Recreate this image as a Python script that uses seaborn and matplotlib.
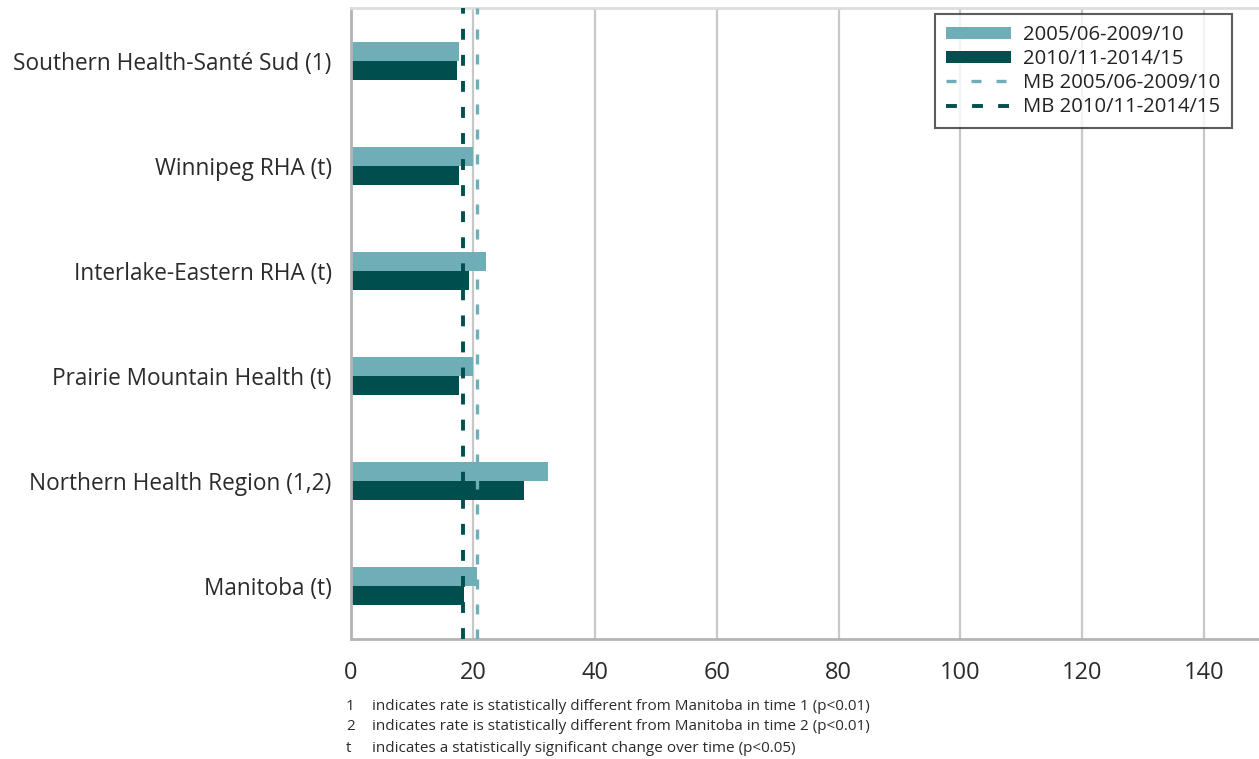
import pandas as pd
import matplotlib
matplotlib.use("Agg")
import matplotlib.pyplot as plt
import seaborn as sns

# datos del grafico
regiones = [
    "Southern Health-Santé Sud (1)",
    "Winnipeg RHA (t)",
    "Interlake-Eastern RHA (t)",
    "Prairie Mountain Health (t)",
    "Northern Health Region (1,2)",
    "Manitoba (t)",
]
periodos = ["2005/06-2009/10", "2010/11-2014/15"]
tasa_t1 = [17.8, 20.1, 22.1, 20.1, 32.4, 20.6]
tasa_t2 = [17.4, 17.8, 19.3, 17.7, 28.4, 18.5]
mb_t1 = 20.6
mb_t2 = 18.4
xticks = [0, 20, 40, 60, 80, 100, 120, 140]
notas = [
    ("1", "indicates rate is statistically different from Manitoba in time 1 (p<0.01)"),
    ("2", "indicates rate is statistically different from Manitoba in time 2 (p<0.01)"),
    ("t", "indicates a statistically significant change over time (p<0.05)"),
]

claro = "#6FAEB6"
oscuro = "#004E4E"

df = pd.DataFrame({
    "region": regiones * 2,
    "periodo": [periodos[0]] * len(regiones) + [periodos[1]] * len(regiones),
    "tasa": tasa_t1 + tasa_t2,
})

sns.set_theme(style="white")
plt.rcParams["font.family"] = ["Open Sans", "DejaVu Sans"]

fig = plt.figure(figsize=(12.59, 7.59), dpi=100)
ax = fig.add_axes([351 / 1259, 1 - 639 / 759, 1 - 351 / 1259, (639 - 8) / 759])

sns.barplot(data=df, y="region", x="tasa", hue="periodo", orient="h",
            palette=[claro, oscuro], width=0.36, saturation=1, ax=ax,
            linewidth=0, edgecolor="none")

# lineas de referencia de Manitoba
ax.axvline(mb_t1, color=claro, lw=2.4, ls=(0, (3, 4.5)), label="MB " + periodos[0], zorder=3)
ax.axvline(mb_t2, color=oscuro, lw=2.8, ls=(0, (2.8, 3.9)), label="MB " + periodos[1], zorder=3)

ax.set_xlim(0, 149)
ax.set_ylim(5.5, -0.5)
ax.set_xticks(xticks)
ax.set_xlabel("")
ax.set_ylabel("")
ax.grid(axis="x", color="#c8c8c8", lw=1.6)
ax.set_axisbelow(True)
for lado in ["left", "bottom", "top"]:
    ax.spines[lado].set_color("#b4b4b4")
    ax.spines[lado].set_linewidth(2)
ax.spines["top"].set_color("#dddddd")
ax.spines["right"].set_visible(False)
ax.tick_params(axis="y", length=0, pad=14, labelsize=16.3, labelcolor="#2b2b2b")
ax.tick_params(axis="x", length=0, pad=16, labelsize=17, labelcolor="#2b2b2b")

leg = ax.legend(loc="upper left", bbox_to_anchor=(935 / 1259, 1 - 14 / 759),
                bbox_transform=fig.transFigure, borderaxespad=0, fontsize=14.6,
                frameon=True, fancybox=False, edgecolor="#333333", handlelength=3.2,
                handleheight=0.6, labelspacing=0.2, borderpad=0.55,
                handletextpad=0.6, labelcolor="#222222")
leg.get_frame().set_linewidth(1.5)

# notas al pie
for i, (clave, texto) in enumerate(notas):
    y = 1 - (706 + i * 21) / 759
    fig.text(346 / 1259, y, clave, fontsize=11, va="center", color="#2b2b2b")
    fig.text(372 / 1259, y, texto, fontsize=11, va="center", color="#2b2b2b")

fig.savefig("out.png", dpi=100)
